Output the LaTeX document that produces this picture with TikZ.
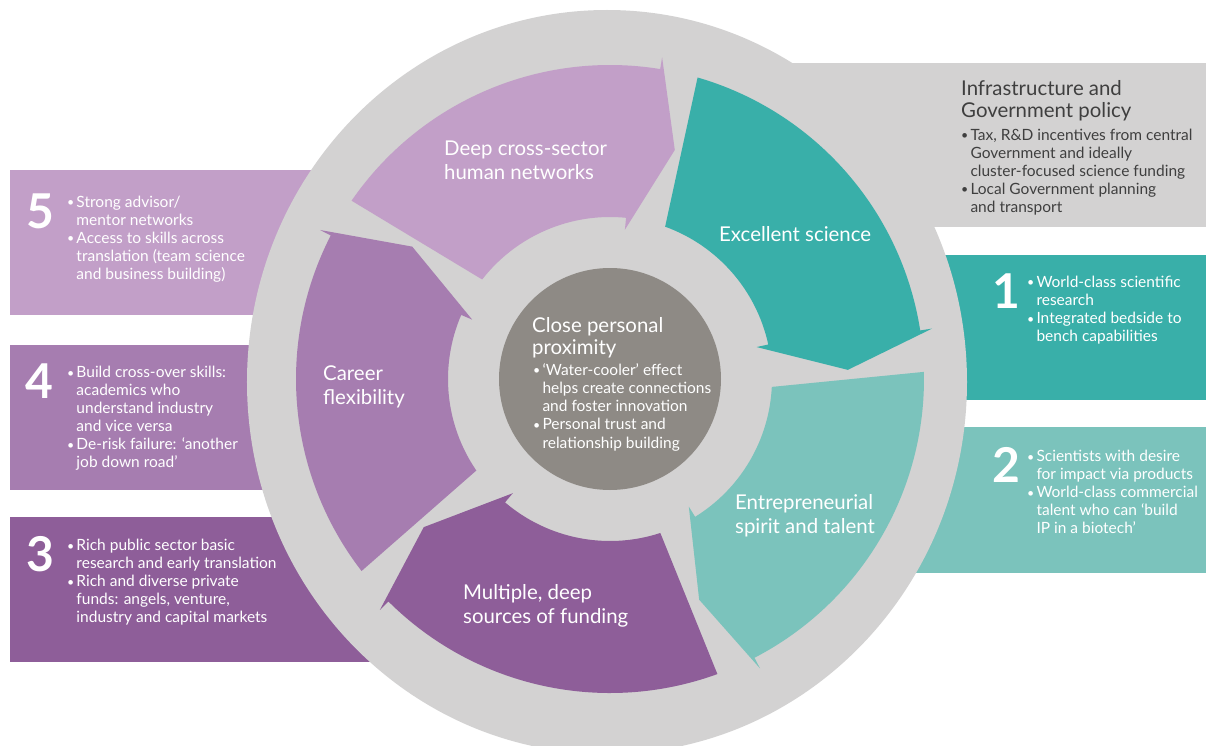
\documentclass[tikz,border=0pt]{standalone}
\usepackage{fontspec}
\setmainfont{Lato}
\usepackage{xcolor}
\usepackage{graphicx}
\usepackage{tikz}

\definecolor{ringgrey}{HTML}{D3D2D2}
\definecolor{coregrey}{HTML}{8E8A85}
\definecolor{infotext}{HTML}{3F3F3F}
\definecolor{lilac}{HTML}{C29FC8}% networks
\definecolor{mauve}{HTML}{A67DB0}% career
\definecolor{plum}{HTML}{8E5E99}% funding
\definecolor{teal}{HTML}{39AFA9}% science
\definecolor{seafoam}{HTML}{7BC3BC}% talent

% radii of the arrow ring
\newcommand*{\rOuter}{314pt}
\newcommand*{\rInner}{162pt}
\newcommand*{\rBarbOut}{326pt}
\newcommand*{\rBarbIn}{150pt}
\newcommand*{\rTip}{238pt}

% #1 colour, #2/#3 tail angle outer/inner, #4/#5 barb angle outer/inner, #6 tip angle
\newcommand{\ringarrow}[6]{%
  \fill[#1] (#2:\rOuter) arc[start angle=#2, end angle=#4, radius=\rOuter]
    -- (#4:\rBarbOut) -- (#6:\rTip) -- (#5:\rBarbIn) -- (#5:\rInner)
    arc[start angle=#5, end angle=#3, radius=\rInner] -- cycle;}

\newcommand{\bitem}{\makebox[0.6em][l]{\raisebox{.04em}{\scalebox{.8}{\textbullet}}}}
\newcommand{\bcont}{\hspace*{0.6em}}

\tikzset{
  txt/.style = {anchor=north west, inner sep=0pt, align=left, text=white,
    execute at begin node=\strut},
  boxtxt/.style = {txt, font=\fontsize{15.5}{18}\selectfont},
  infotxt/.style = {boxtxt, text=infotext},
  infotitle/.style = {txt, text=infotext, font=\fontsize{20.4}{22}\selectfont},
  arrtxt/.style = {txt, font=\fontsize{20.4}{24}\selectfont},
  coretitle/.style = {txt, font=\fontsize{20.4}{22}\selectfont},
  bignum/.style = {anchor=base west, inner sep=0pt, text=white,
    font=\fontsize{48}{48}\selectfont\bfseries}
}

\begin{document}
\begin{tikzpicture}[x=1pt, y=1pt]
\useasboundingbox (-610,-366) rectangle (596,379);
\clip (-610,-366) rectangle (596,379);

% side panels, half hidden under the wheel
\fill[lilac] (-600,209) rectangle (0,64);
\fill[mauve] (-600,34) rectangle (0,-111);
\fill[plum] (-600,-138) rectangle (0,-283);
\fill[ringgrey] (0,316) rectangle (596,152);
\fill[teal] (0,124) rectangle (596,-21);
\fill[seafoam] (0,-48) rectangle (596,-194);

% wheel
\fill[ringgrey] (-3,-3) ellipse[x radius=360pt, y radius=372pt];
\fill[coregrey] (0,0) circle[radius=111pt];

\ringarrow{lilac}{145.4}{142.1}{80.8}{84.3}{74.2}
\ringarrow{teal}{73.8}{70.1}{8.9}{12.3}{2.2}
\ringarrow{seafoam}{1.3}{-2.8}{-62.6}{-58.3}{-68}
\ringarrow{plum}{-70}{-71.9}{-134.9}{-130.4}{-141.5}
\ringarrow{mauve}{-142.3}{-145.6}{-207.2}{-203.3}{-213.8}

% arrow labels
\node[arrtxt] (deep) at (-166,238) {Deep cross-sector\\human networks};
\node[arrtxt] (science) at (109,155) {Excellent science};
\node[arrtxt] (talent) at (125,-115) {Entrepreneurial\\spirit and talent};
\node[arrtxt] (funding) at (-147,-205) {Multiple, deep\\sources of funding};
\node[arrtxt] (career) at (-287,13) {Career\\flexibility};

% centre
\node[coretitle] (core) at (-78,62) {Close personal\\proximity};
\node[boxtxt, font=\fontsize{15.5}{18.25}\selectfont] (coretxt) at (-77,16) {\bitem ‘Water-cooler’ effect\\\bcont helps create connections\\\bcont and foster innovation\\\bitem Personal trust and\\\bcont relationship building};

% left panels
\node[bignum] (n5) at (-584,151) {5};
\node[boxtxt] (t5) at (-543,183) {\bitem Strong advisor/\\\bcont mentor networks\\\bitem Access to skills across\\\bcont translation (team science\\\bcont and business building)};
\node[bignum] (n4) at (-585,-19) {4};
\node[boxtxt] (t4) at (-543,13) {\bitem Build cross-over skills:\\\bcont academics who\\\bcont understand industry\\\bcont and vice versa\\\bitem De-risk failure: ‘another\\\bcont job down road’};
\node[bignum] (n3) at (-584,-192) {3};
\node[boxtxt] (t3) at (-543,-160) {\bitem Rich public sector basic\\\bcont research and early translation\\\bitem Rich and diverse private\\\bcont funds: angels, venture,\\\bcont industry and capital markets};

% right panels
\node[infotitle] (gov) at (351,299) {Infrastructure and\\Government policy};
\node[infotxt] (govtxt) at (351,250) {\bitem Tax, R\&D incentives from central\\\bcont Government and ideally\\\bcont cluster-focused science funding\\\bitem Local Government planning\\\bcont and transport};
\node[bignum] (n1) at (382,71) {1};
\node[boxtxt] (t1) at (417,103) {\bitem World-class scientific\\\bcont research\\\bitem Integrated bedside to\\\bcont bench capabilities};
\node[bignum] (n2) at (382,-103) {2};
\node[boxtxt] (t2) at (417,-71) {\bitem Scientists with desire\\\bcont for impact via products\\\bitem World-class commercial\\\bcont talent who can ‘build\\\bcont IP in a biotech’};
\end{tikzpicture}
\end{document}
